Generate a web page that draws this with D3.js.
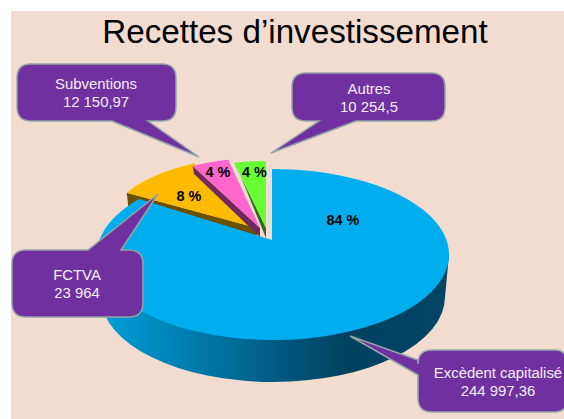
<!DOCTYPE html>
<html lang="fr">
<head>
<meta charset="utf-8">
<script src="https://cdn.jsdelivr.net/npm/d3@7"></script>
<style>
html,body{margin:0;padding:0;background:#fff}
svg{display:block}
text{font-family:"Liberation Sans",Arial,sans-serif}
</style>
</head>
<body>
<div id="chart"></div>
<script>
// ---- data ----
const categories = ["Excèdent capitalisé", "FCTVA", "Subventions", "Autres"];
const values = [244997.36, 23964, 12150.97, 10254.5];
const valueLabels = ["244 997,36", "23 964", "12 150,97", "10 254,5"];
const titleText = "Recettes d’investissement";

// ---- styles and layout ----
const width = 564, height = 419;
const topColors = ["#00aeef", "#fdbb00", "#ff66cc", "#66ff33"];
const wallColors = [null, "#6b5000", "#70295f", "#2f6a1a"];
const apexes = [[272, 240], [257, 228], [260, 228], [266, 228]];
const radii = [[150, 72], [150, 71], [145, 70], [145, 67]];
const spread = [1, 1.2, 1, 1];           // perspective widening of a slice on screen
const wallDepth = [null, [11, 14], [9, 8], [10, 1.5]];
const labelPos = [[343, 220], [189, 196], [218, 171.5], [254.5, 171.5]];
const rim = {cx: 273, cy: 254.5, rx: 176, ry: 85.5};
const lowRim = {cx: 273, cy: 297, rx: 172, ry: 85};

const callouts = [
  {box: [418, 350, 568, 412], text: [498, 373], tip: [350, 336], side: "left", base: [360, 375]},
  {box: [12, 250, 143, 317], text: [77, 275], tip: [158, 194], side: "top", base: [88, 121]},
  {box: [17, 64, 176, 121], text: [96, 84], tip: [199, 157], side: "bottom", base: [112, 148]},
  {box: [292, 73, 445, 121], text: [369, 89], tip: [271, 153], side: "bottom", base: [319, 356]}
];

// ---- chart ----
const svg = d3.select("#chart").append("svg").attr("width", width).attr("height", height);
svg.append("rect").attr("x", 11).attr("y", 11).attr("width", width - 11).attr("height", height - 11).attr("fill", "#f2dcd0");

const slices = d3.pie().sort(null)(values);
const total = d3.sum(values);
const pct = v => d3.format(".0f")(v / total * 100) + " %";

// point on a slice's own ellipse, seen from its apex
const rimPoint = (i, a) => [apexes[i][0] + radii[i][0] * Math.sin(a), apexes[i][1] - radii[i][1] * Math.cos(a)];

// intersection of the ray from the big slice's apex with the big ellipse
function bigRimPoint(a) {
  const [ax, ay] = apexes[0];
  const dx = radii[0][0] * Math.sin(a), dy = -radii[0][1] * Math.cos(a);
  const ox = (ax - rim.cx) / rim.rx, oy = (ay - rim.cy) / rim.ry;
  const ux = dx / rim.rx, uy = dy / rim.ry;
  const A = ux * ux + uy * uy, B = 2 * (ox * ux + oy * uy), C = ox * ox + oy * oy - 1;
  const t = (-B + Math.sqrt(B * B - 4 * A * C)) / (2 * A);
  return [ax + t * dx, ay + t * dy];
}

// small slices: wall, then top
[1, 2, 3].forEach(i => {
  const s = slices[i];
  const mid = (s.startAngle + s.endAngle) / 2;
  const half = (s.endAngle - s.startAngle) / 2 * spread[i];
  const start = mid - half, end = mid + half;
  const left = rimPoint(i, start), apex = apexes[i];
  const [dApex, dLeft] = wallDepth[i];
  svg.append("path")
    .attr("d", d3.line()([left, apex, [apex[0], apex[1] + dApex], [left[0] + 1.5, left[1] + dLeft]]) + "Z")
    .attr("fill", wallColors[i]);
  const arcAngles = d3.range(0, 25).map(k => start + (end - start) * k / 24);
  svg.append("path")
    .attr("d", d3.line()([apex].concat(arcAngles.map(a => rimPoint(i, a)))) + "Z")
    .attr("fill", topColors[i]);
});

// wall of the big slice
const grad = svg.append("defs").append("linearGradient")
  .attr("id", "wall").attr("gradientUnits", "userSpaceOnUse")
  .attr("x1", 100).attr("x2", 445).attr("y1", 0).attr("y2", 0);
[[0, "#009fd8"], [0.3, "#0078a8"], [0.55, "#00557c"], [0.72, "#00415f"], [1, "#004565"]]
  .forEach(d => grad.append("stop").attr("offset", d[0]).attr("stop-color", d[1]));
svg.append("path")
  .attr("d", `M${rim.cx + rim.rx},${rim.cy}L${lowRim.cx + lowRim.rx},${lowRim.cy}` +
    `A${lowRim.rx},${lowRim.ry} 0 0 1 ${lowRim.cx - lowRim.rx},${lowRim.cy}L${rim.cx - rim.rx},${rim.cy}Z`)
  .attr("fill", "url(#wall)");

// top of the big slice
const p0 = bigRimPoint(slices[0].startAngle), p1 = bigRimPoint(slices[0].endAngle);
svg.append("path")
  .attr("d", `M${apexes[0]}L${p0}A${rim.rx},${rim.ry} 0 1 1 ${p1}Z`)
  .attr("fill", topColors[0]);

// percentage labels
svg.selectAll("text.pct").data(slices).join("text").attr("class", "pct")
  .attr("x", (d, i) => labelPos[i][0]).attr("y", (d, i) => labelPos[i][1])
  .attr("dy", "0.36em").attr("text-anchor", "middle")
  .attr("font-size", 14.4).attr("font-weight", "bold").attr("fill", "#000")
  .text(d => pct(d.value));

// callouts
function calloutPath(c) {
  const [x0, y0, x1, y1] = c.box, r = 14, p = d3.path();
  p.moveTo(x0 + r, y0);
  if (c.side === "top") { p.lineTo(c.base[0], y0); p.lineTo(c.tip[0], c.tip[1]); p.lineTo(c.base[1], y0); }
  p.lineTo(x1 - r, y0);
  p.quadraticCurveTo(x1, y0, x1, y0 + r);
  p.lineTo(x1, y1 - r);
  p.quadraticCurveTo(x1, y1, x1 - r, y1);
  if (c.side === "bottom") { p.lineTo(c.base[1], y1); p.lineTo(c.tip[0], c.tip[1]); p.lineTo(c.base[0], y1); }
  p.lineTo(x0 + r, y1);
  p.quadraticCurveTo(x0, y1, x0, y1 - r);
  if (c.side === "left") { p.lineTo(x0, c.base[1]); p.lineTo(c.tip[0], c.tip[1]); p.lineTo(x0, c.base[0]); }
  p.lineTo(x0, y0 + r);
  p.quadraticCurveTo(x0, y0, x0 + r, y0);
  p.closePath();
  return p.toString();
}
callouts.forEach((c, i) => {
  svg.append("path").attr("d", calloutPath(c))
    .attr("fill", "#7030a0").attr("stroke", "#93a5a6").attr("stroke-width", 1.5);
  [categories[i], valueLabels[i]].forEach((t, k) => {
    svg.append("text").attr("x", c.text[0]).attr("y", c.text[1] + k * 18)
      .attr("dy", "0.36em").attr("text-anchor", "middle")
      .attr("font-size", 14.9).attr("fill", "#f4eef8").text(t);
  });
});

// title
svg.append("text").attr("x", 295).attr("y", 43).attr("text-anchor", "middle")
  .attr("font-size", 33.2).attr("fill", "#000").text(titleText);
</script>
</body>
</html>
